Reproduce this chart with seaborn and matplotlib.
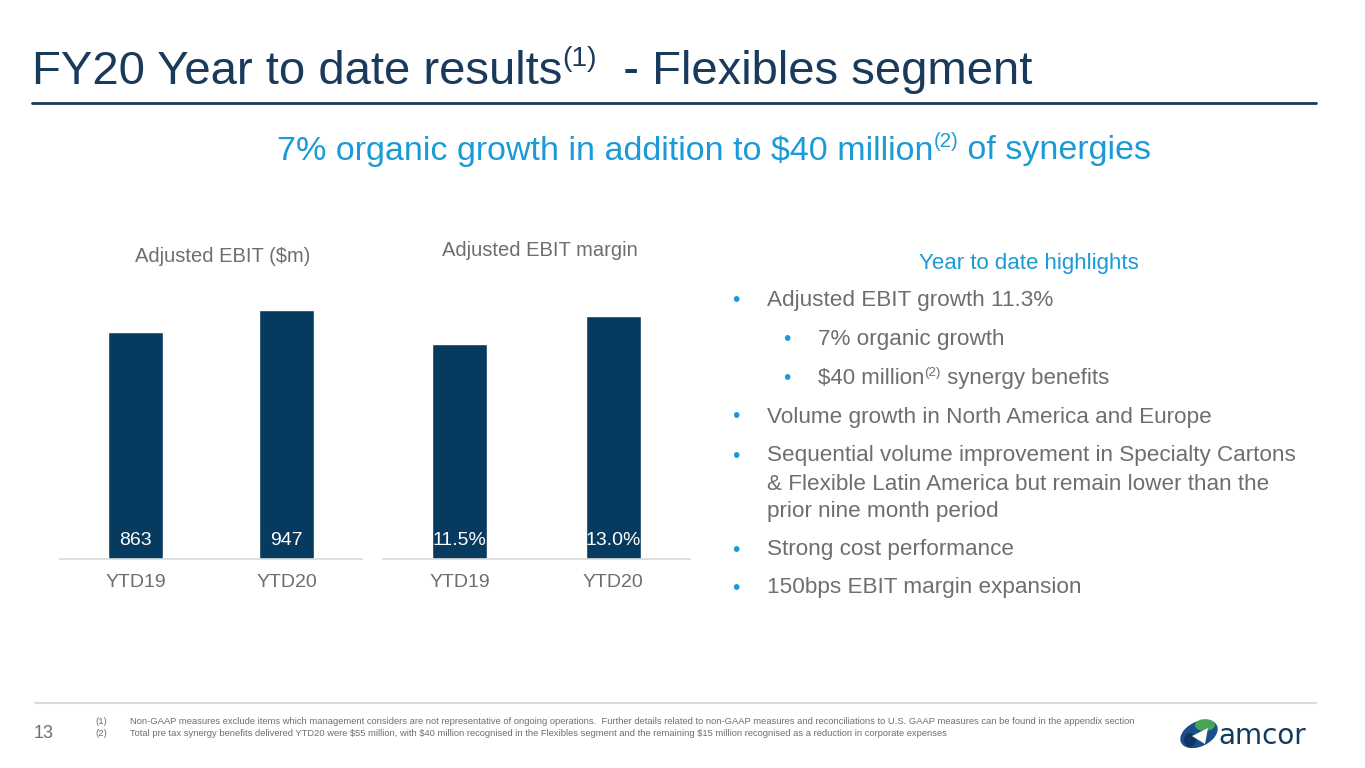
import matplotlib
matplotlib.use("Agg")
import matplotlib.pyplot as plt
import seaborn as sns
import pandas as pd
from matplotlib.patches import Ellipse, Polygon

# --- data ---
periods = ["YTD19", "YTD20"]
ebit = [863, 947]
margin = [11.5, 13.0]
ebit_labels = ["863", "947"]
margin_labels = ["11.5%", "13.0%"]

title_main = "FY20 Year to date results"
title_sup = "(1)"
title_tail = "  - Flexibles segment"
sub_main = "7% organic growth in addition to $40 million"
sub_sup = "(2)"
sub_tail = " of synergies"
highlights_title = "Year to date highlights"
bullets = [
    (0, ["Adjusted EBIT growth 11.3%"]),
    (1, ["7% organic growth"]),
    (1, ["$40 million", "(2)", " synergy benefits"]),
    (0, ["Volume growth in North America and Europe"]),
    (0, ["Sequential volume improvement in Specialty Cartons",
         "& Flexible Latin America but remain lower than the",
         "prior nine month period"]),
    (0, ["Strong cost performance"]),
    (0, ["150bps EBIT margin expansion"]),
]
footnotes = [
    ("(1)", "Non-GAAP measures exclude items which management considers are not representative of ongoing operations.  "
            "Further details related to non-GAAP measures and reconciliations to U.S. GAAP measures can be found in the appendix section"),
    ("(2)", "Total pre tax synergy benefits delivered YTD20 were $55 million, with $40 million recognised in the Flexibles "
            "segment and the remaining $15 million recognised as a reduction in corporate expenses"),
]

NAVY = "#063a5e"
TITLE = "#1a3a5c"
CYAN = "#1a9ad6"
GREY = "#6e6e6e"

sns.set_theme(style="white")
plt.rcParams["font.family"] = ["Liberation Sans", "DejaVu Sans"]

W, H = 1365, 768
fig = plt.figure(figsize=(13.65, 7.68), dpi=100)
renderer = fig.canvas.get_renderer()


def fx(px):
    return px / W


def fy(py):
    return 1 - py / H


def run_text(x, y, parts, size, color):
    # parts: list of (text, is_superscript)
    cur = x
    for txt, sup in parts:
        s = size * 0.6 if sup else size
        yy = y - size * 0.38 if sup else y
        t = fig.text(fx(cur), fy(yy), txt, fontsize=s, color=color, va="center", ha="left")
        bb = t.get_window_extent(renderer)
        cur += bb.width
    return cur


# title + rule
run_text(32, 72, [(title_main, False), (title_sup, True), (title_tail, False)], 34, TITLE)
fig.add_artist(plt.Line2D([fx(32), fx(1316)], [fy(103), fy(103)], color=TITLE, lw=2))

# subtitle, centred
tmp = [(sub_main, False), (sub_sup, True), (sub_tail, False)]
width = 0
for txt, sup in tmp:
    t = fig.text(0, 0, txt, fontsize=24.5 * (0.6 if sup else 1))
    width += t.get_window_extent(renderer).width
    t.remove()
run_text(714 - width / 2, 151, tmp, 24.5, CYAN)


def bar_panel(left, right, values, labels, ymax, header, header_x, header_y):
    ax = fig.add_axes([fx(left), fy(559), fx(right - left), (559 - 290) / H])
    df = pd.DataFrame({"period": periods, "value": values})
    sns.barplot(data=df, x="period", y="value", color=NAVY, width=0.36, saturation=1, ax=ax)
    ax.set_ylim(0, ymax)
    ax.set_xlim(-0.5, 1.5)
    ax.set_xlabel("")
    ax.set_ylabel("")
    ax.set_yticks([])
    for s in ["top", "left", "right"]:
        ax.spines[s].set_visible(False)
    ax.spines["bottom"].set_color("#d9d9d9")
    ax.spines["bottom"].set_linewidth(1.2)
    ax.tick_params(axis="x", which="major", length=0, pad=11, labelsize=14, labelcolor=GREY)
    ax.set_xticks([-0.5, 0.5, 1.5], minor=True)
    ax.tick_params(axis="x", which="minor", length=6, width=1, color="#d9d9d9", direction="out")
    ax.patch.set_alpha(0)
    for p, lab in zip(ax.patches, labels):
        ax.annotate(lab, (p.get_x() + p.get_width() / 2, 0), xytext=(0, 13),
                    textcoords="offset points", ha="center", va="center",
                    color="white", fontsize=14)
    fig.text(fx(header_x), fy(header_y), header, ha="center", va="center",
             fontsize=14.5, color=GREY)
    return ax


bar_panel(60, 362, ebit, ebit_labels, 1023, "Adjusted EBIT ($m)", 223, 256)
bar_panel(383, 690, margin, margin_labels, 14.39, "Adjusted EBIT margin", 540, 251)

# highlights
fig.text(fx(1029), fy(263), highlights_title, ha="center", va="center", fontsize=16, color=CYAN)
line_y = [301, 340, 379, 417, 456, 550, 588]
for (lvl, lines), y in zip(bullets, line_y):
    bx = 732 if lvl == 0 else 783
    tx = 767 if lvl == 0 else 818
    fig.text(fx(bx), fy(y), "\u2022", ha="left", va="center", fontsize=15, color=CYAN)
    if len(lines) == 3 and lvl == 1:
        run_text(tx, y, [(lines[0], False), (lines[1], True), (lines[2], False)], 16, GREY)
    else:
        for i, ln in enumerate(lines):
            fig.text(fx(tx), fy(y + i * 28), ln, ha="left", va="center", fontsize=16.2, color=GREY)

# footer
fig.add_artist(plt.Line2D([fx(35), fx(1316)], [fy(703), fy(703)], color="#dcdcdc", lw=1.5))
fig.text(fx(34), fy(734), "13", ha="left", va="center", fontsize=13, color=GREY)
for (num, txt), y in zip(footnotes, [721, 734]):
    fig.text(fx(95), fy(y), num, ha="left", va="center", fontsize=6.8, color=GREY)
    fig.text(fx(130), fy(y), txt, ha="left", va="center", fontsize=6.75, color=GREY)

# logo
fig.add_artist(Ellipse((fx(1199), fy(734)), fx(33), 30 / H, angle=-25,
                       facecolor="#1b4f8c", edgecolor="none"))
fig.add_artist(Ellipse((fx(1205), fy(725)), fx(20), 12 / H, angle=-15,
                       facecolor="#4caf50", edgecolor="none", alpha=0.9))
fig.add_artist(Ellipse((fx(1190), fy(740)), fx(12), 14 / H, angle=0,
                       facecolor="#0d2f5c", edgecolor="none", alpha=0.8))
fig.add_artist(Polygon([(fx(1192), fy(736)), (fx(1208), fy(728)), (fx(1205), fy(744))],
                       closed=True, facecolor="white", edgecolor="none"))
fig.text(fx(1218), fy(736), "amcor", ha="left", va="center", fontsize=20,
         color="#123a5e", family="DejaVu Sans")

fig.savefig("out.png", dpi=100)
